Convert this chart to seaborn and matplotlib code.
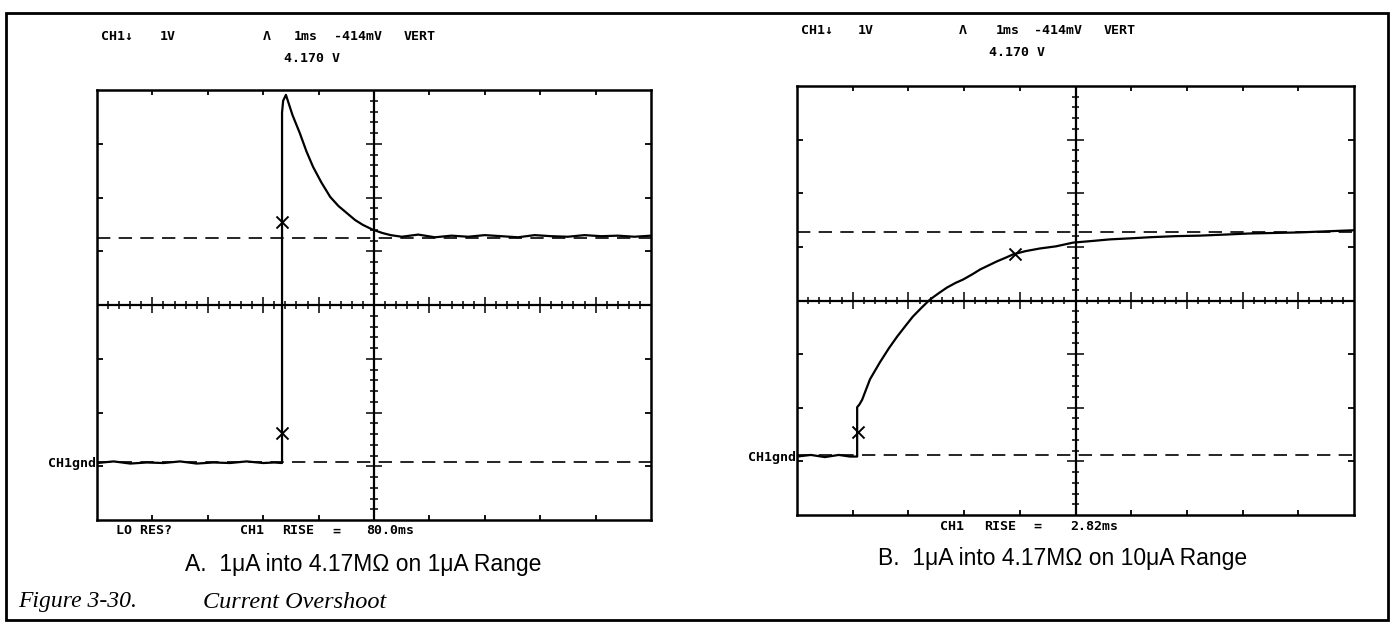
import numpy as np
import seaborn as sns
import matplotlib.pyplot as plt
from matplotlib.patches import Rectangle

# ---- data (time in divisions, volts) ----
t_a = [0, 0.3, 0.6, 0.9, 1.2, 1.5, 1.8, 2.1, 2.4, 2.7, 3.0, 3.2, 3.34,
       3.34, 3.36, 3.41, 3.53, 3.66, 3.78, 3.90, 4.05, 4.21, 4.36, 4.51,
       4.66, 4.80, 4.98, 5.15, 5.3, 5.5, 5.8, 6.1, 6.4, 6.7, 7.0, 7.3,
       7.6, 7.9, 8.2, 8.5, 8.8, 9.1, 9.4, 9.7, 10.0]
v_a = [-0.02, 0.01, -0.03, -0.01, -0.02, 0.01, -0.03, -0.01, -0.02, 0.01,
       -0.02, -0.01, -0.02,
       6.5, 6.72, 6.83, 6.45, 6.12, 5.78, 5.49, 5.20, 4.93, 4.76, 4.63,
       4.50, 4.41, 4.32, 4.26, 4.22, 4.19, 4.23, 4.18, 4.21, 4.19, 4.22,
       4.20, 4.18, 4.22, 4.20, 4.19, 4.22, 4.20, 4.21, 4.19, 4.21]
t_b = [0, 0.25, 0.5, 0.75, 0.95, 1.08, 1.08, 1.12, 1.17, 1.31, 1.49, 1.65,
       1.80, 1.95, 2.08, 2.25, 2.39, 2.55, 2.69, 2.85, 2.98, 3.15, 3.29,
       3.45, 3.59, 3.75, 3.88, 4.1, 4.36, 4.65, 4.96, 5.3, 5.62, 6.0, 6.34,
       6.8, 7.24, 7.7, 8.13, 8.6, 9.03, 9.5, 10.0]
v_b = [-0.02, 0.01, -0.03, 0.01, -0.02, -0.02, 0.90, 0.95, 1.04, 1.42,
       1.74, 2.00, 2.22, 2.42, 2.59, 2.77, 2.91, 3.03, 3.13, 3.22, 3.28,
       3.38, 3.47, 3.55, 3.62, 3.69, 3.75, 3.81, 3.86, 3.90, 3.97, 4.00,
       4.03, 4.05, 4.07, 4.09, 4.10, 4.12, 4.14, 4.15, 4.16, 4.18, 4.20]

# rise-time cursor crosses
x_marks_a = [3.34, 3.34]
y_marks_a = [0.54, 4.47]
x_marks_b = [1.10, 3.91]
y_marks_b = [0.43, 3.75]

cursor_v = 4.17
gnd_v = 0.0
center_a = 2.92
center_b = 2.89

header = ["CH1\u2193", "1V", "\u039b", "1ms", "-414mV", "VERT"]
readout = "4.170 V"
rise_a = ["CH1", "RISE", "=", "80.0ms"]
rise_b = ["CH1", "RISE", "=", "2.82ms"]
caption_a = "A.  1\u03bcA into 4.17M\u03a9 on 1\u03bcA Range"
caption_b = "B.  1\u03bcA into 4.17M\u03a9 on 10\u03bcA Range"

sns.set_style("white")
plt.rcParams["text.color"] = "black"
W, H = 1394, 624
fig = plt.figure(figsize=(W / 100, H / 100), dpi=100)


def px(x, y):
    return x / W, 1 - y / H


def graticule(ax, ymid):
    ylo, yhi = ymid - 4, ymid + 4
    ax.set_xlim(0, 10)
    ax.set_ylim(ylo, yhi)
    ax.set_xticks([])
    ax.set_yticks([])
    for s in ax.spines.values():
        s.set_linewidth(1.8)
        s.set_color("black")
    ax.axvline(5, color="black", lw=1.6, zorder=2)
    ax.axhline(ymid, color="black", lw=1.6, zorder=2)
    xs = np.round(np.arange(0.2, 10, 0.2), 3)
    for x in xs:
        h = 0.15 if abs(x - round(x)) < 1e-6 else 0.07
        ax.vlines(x, ymid - h, ymid + h, color="black", lw=1.1)
    ys = np.round(np.arange(0.2, 8, 0.2), 3)
    for k in ys:
        h = 0.15 if abs(k - round(k)) < 1e-6 else 0.07
        ax.hlines(ylo + k, 5 - h, 5 + h, color="black", lw=1.1)
    for x in range(1, 10):
        ax.vlines(x, ylo, ylo + 0.1, color="black", lw=1.3)
        ax.vlines(x, yhi - 0.1, yhi, color="black", lw=1.3)
    for k in range(1, 8):
        ax.hlines(ylo + k, 0, 0.1, color="black", lw=1.3)
        ax.hlines(ylo + k, 9.9, 10, color="black", lw=1.3)
    ax.axhline(cursor_v, color="black", lw=1.2, ls=(0, (8, 5)))
    ax.axhline(gnd_v, color="black", lw=1.2, ls=(0, (8, 5)))


ax_a = fig.add_axes([97 / W, 1 - 520 / H, 554 / W, 430 / H])
ax_b = fig.add_axes([797 / W, 1 - 515 / H, 557 / W, 429 / H])
graticule(ax_a, center_a)
graticule(ax_b, center_b)

for ax, t, v, xm, ym in [(ax_a, t_a, v_a, x_marks_a, y_marks_a),
                         (ax_b, t_b, v_b, x_marks_b, y_marks_b)]:
    sns.lineplot(x=t, y=v, ax=ax, color="black", lw=1.6,
                 estimator=None, sort=False, zorder=3)
    sns.scatterplot(x=xm, y=ym, ax=ax, marker="x", s=75, color="black",
                    linewidth=1.4, zorder=4)
    ax.set_xlabel("")
    ax.set_ylabel("")

mono = dict(family="DejaVu Sans Mono", fontweight="bold", fontsize=9.5,
            ha="center", va="center", color="black")

# scope header and readouts
for xs, y1, y2, rx in [([117, 168, 267, 306, 358, 420], 37, 59, 312),
                       ([817, 866, 963, 1008, 1058, 1120], 31, 53, 1017)]:
    for txt, x in zip(header, xs):
        fig.text(*px(x, y1), txt, **mono)
    fig.text(*px(rx, y2), readout, **mono)

fig.text(*px(144, 531), "LO RES?", **mono)
for txt, x in zip(rise_a, [252, 298, 336, 390]):
    fig.text(*px(x, 531), txt, **mono)
for txt, x in zip(rise_b, [952, 1000, 1037, 1094]):
    fig.text(*px(x, 526), txt, **mono)
fig.text(*px(96, 463), "CH1gnd", **{**mono, "ha": "right"})
fig.text(*px(796, 458), "CH1gnd", **{**mono, "ha": "right"})

fig.text(*px(363, 564), caption_a, family="Liberation Sans", fontsize=16.5,
         ha="center", va="center")
fig.text(*px(1063, 558), caption_b, family="Liberation Sans", fontsize=16.5,
         ha="center", va="center")
fig.text(*px(18, 602), "Figure 3-30.", family="Liberation Serif",
         style="italic", fontsize=17, ha="left", va="center")
fig.text(*px(203, 602), "Current Overshoot", family="Liberation Serif",
         style="italic", fontsize=17.5, ha="left", va="center")

fig.add_artist(Rectangle(px(6, 620), 1382 / W, 607 / H, transform=fig.transFigure,
                         fill=False, lw=2, edgecolor="black"))

fig.savefig("out.png", dpi=100)
